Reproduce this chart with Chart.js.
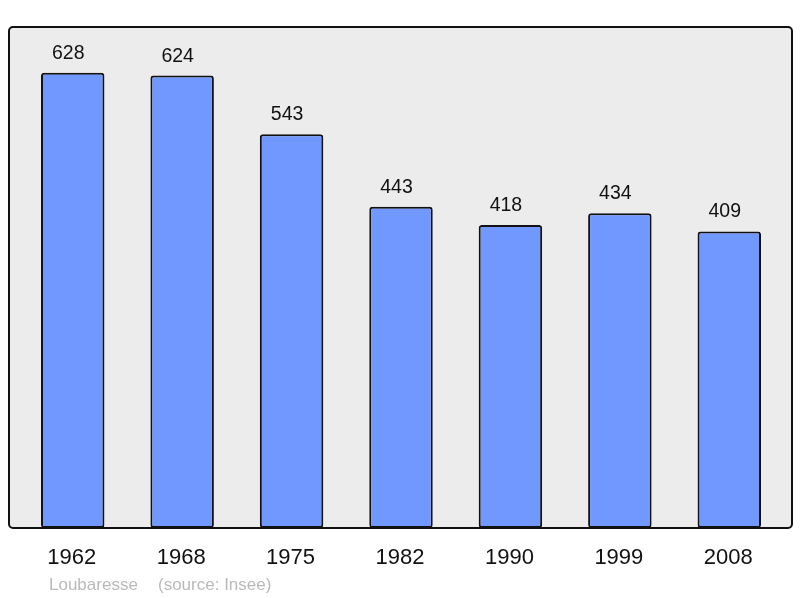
<!DOCTYPE html>
<html>
<head>
<meta charset="utf-8">
<script src="https://cdn.jsdelivr.net/npm/chart.js@4/dist/chart.umd.min.js"></script>
<style>
  html, body { margin: 0; padding: 0; background: #fff; }
  #wrap { width: 800px; height: 598px; position: relative; }
</style>
</head>
<body>
<div id="wrap"><canvas id="chart"></canvas></div>
<script>
const years = ['1962', '1968', '1975', '1982', '1990', '1999', '2008'];
const population = [628, 624, 543, 443, 418, 434, 409];
const placeName = 'Loubaresse';
const sourceNote = '(source: Insee)';

// frame, value labels, year labels and footer
const decorations = {
  id: 'decorations',
  beforeDraw(chart) {
    const ctx = chart.ctx;
    ctx.save();
    ctx.beginPath();
    ctx.roundRect(9, 27, 783, 501, 4);
    ctx.fillStyle = '#ececec';
    ctx.fill();
    ctx.restore();
  },
  afterDatasetsDraw(chart) {
    const ctx = chart.ctx;
    const meta = chart.getDatasetMeta(0);
    const x = chart.scales.x;
    ctx.save();
    ctx.beginPath();
    ctx.roundRect(9, 27, 783, 501, 4);
    ctx.lineWidth = 2;
    ctx.strokeStyle = '#111';
    ctx.stroke();

    ctx.fillStyle = '#111';
    ctx.textAlign = 'center';
    ctx.textBaseline = 'alphabetic';
    ctx.font = '19.5px "Liberation Sans", Arial, sans-serif';
    meta.data.forEach((bar, i) => {
      ctx.fillText(String(population[i]), bar.x - 4.5, bar.y - 14);
    });

    ctx.font = '22px "Liberation Sans", Arial, sans-serif';
    years.forEach((y, i) => {
      ctx.fillText(y, x.getPixelForValue(i) - 1, 564);
    });

    ctx.textAlign = 'left';
    ctx.fillStyle = '#bababa';
    ctx.font = '17px "Liberation Sans", Arial, sans-serif';
    ctx.fillText(placeName, 49, 590);
    ctx.fillText(sourceNote, 158, 590);
    ctx.restore();
  }
};

new Chart(document.getElementById('chart'), {
  type: 'bar',
  data: {
    labels: years,
    datasets: [{
      data: population,
      backgroundColor: '#7198ff',
      borderColor: '#111',
      borderWidth: 2,
      borderRadius: 3,
      borderSkipped: false,
      barPercentage: 0.58,
      categoryPercentage: 1
    }]
  },
  options: {
    responsive: true,
    maintainAspectRatio: false,
    animation: false,
    layout: { padding: { left: 18, right: 16, top: 27, bottom: 70 } },
    plugins: { legend: { display: false }, tooltip: { enabled: false } },
    scales: {
      x: { display: false },
      y: { display: false, min: 0, max: 691 }
    }
  },
  plugins: [decorations]
});
</script>
</body>
</html>
